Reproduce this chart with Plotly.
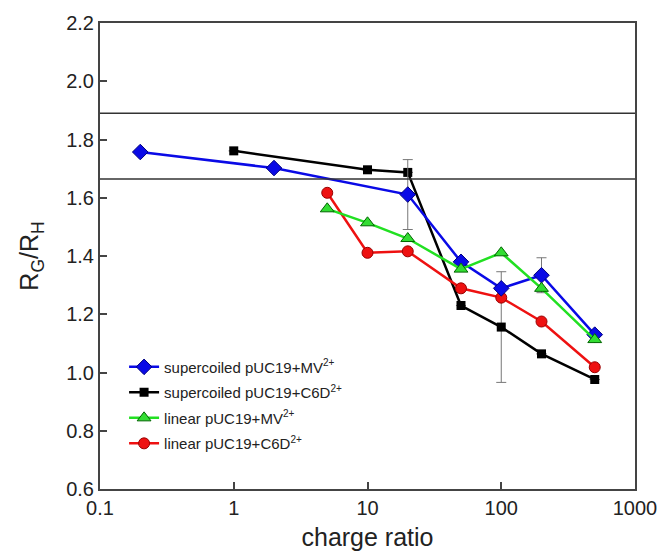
import plotly.graph_objects as go

FONT = "Liberation Sans"

# charge ratio values
x_sc_mv = [0.2, 2, 20, 50, 100, 200, 500]
y_sc_mv = [1.757, 1.702, 1.611, 1.380, 1.289, 1.334, 1.130]
err_sc_mv = [0, 0, 0.12, 0, 0, 0.06, 0]

x_sc_c6d = [1, 10, 20, 50, 100, 200, 500]
y_sc_c6d = [1.761, 1.696, 1.687, 1.230, 1.156, 1.064, 0.976]
err_sc_c6d = [0, 0, 0, 0, 0.19, 0, 0]

x_lin_mv = [5, 10, 20, 50, 100, 200, 500]
y_lin_mv = [1.562, 1.514, 1.460, 1.355, 1.411, 1.289, 1.113]

x_lin_c6d = [5, 10, 20, 50, 100, 200, 500]
y_lin_c6d = [1.617, 1.411, 1.416, 1.289, 1.257, 1.175, 1.018]

ref_lines = [1.89, 1.664]

x_tickvals = [0.1, 1, 10, 100, 1000]
x_ticktext = ["0.1", "1", "10", "100", "1000"]

SUP = '<sup><span style="font-size:10px">2+</span></sup>'
names = [
    "supercoiled pUC19+MV" + SUP,
    "supercoiled pUC19+C6D" + SUP,
    "linear pUC19+MV" + SUP,
    "linear pUC19+C6D" + SUP,
]

fig = go.Figure()

err_style = dict(type="data", symmetric=True, color="#777777", thickness=1, width=5)

fig.add_trace(go.Scatter(
    x=x_sc_c6d, y=y_sc_c6d, name=names[1], mode="lines+markers",
    line=dict(color="#000000", width=2.5),
    marker=dict(symbol="square", size=9, color="#000000"),
    error_y=dict(array=err_sc_c6d, **err_style),
    legendgroup="b", legendrank=2,
))
fig.add_trace(go.Scatter(
    x=x_lin_c6d, y=y_lin_c6d, name=names[3], mode="lines+markers",
    line=dict(color="#EE1111", width=2.5),
    marker=dict(symbol="circle", size=11, color="#EE1111", line=dict(color="#990000", width=1)),
    legendgroup="d", legendrank=4,
))
fig.add_trace(go.Scatter(
    x=x_sc_mv, y=y_sc_mv, name=names[0], mode="lines+markers",
    line=dict(color="#0A0AE6", width=2.5),
    marker=dict(symbol="diamond", size=12, color="#0A0AE6", line=dict(color="#000080", width=1)),
    error_y=dict(array=err_sc_mv, **err_style),
    legendgroup="a", legendrank=1,
))
fig.add_trace(go.Scatter(
    x=x_lin_mv, y=y_lin_mv, name=names[2], mode="lines+markers",
    line=dict(color="#22E022", width=2.5),
    marker=dict(symbol="triangle-up", size=12, color="#33DD33", line=dict(color="#006600", width=1)),
    legendgroup="c", legendrank=3,
))

for yv in ref_lines:
    fig.add_shape(type="line", xref="paper", x0=0, x1=1, yref="y", y0=yv, y1=yv,
                  line=dict(color="#333333", width=1.5))

axis_common = dict(
    showline=True, linecolor="#444444", linewidth=2, mirror=True,
    ticks="inside", ticklen=7, tickwidth=1.5, tickcolor="#444444",
    showgrid=False, zeroline=False,
    tickfont=dict(family=FONT, size=20, color="#222222"),
)

fig.update_xaxes(
    type="log", range=[-1, 3], tickvals=x_tickvals, ticktext=x_ticktext,
    title=dict(text="charge ratio", font=dict(family=FONT, size=25, color="#222222"), standoff=10),
    **axis_common,
)
fig.update_yaxes(
    range=[0.6, 2.2], dtick=0.2, tick0=0.6, tickformat=".1f",
    title=dict(text="R<sub>G</sub>/R<sub>H</sub>", font=dict(family=FONT, size=25, color="#222222"), standoff=20),
    **axis_common,
)

fig.update_layout(
    width=669, height=559,
    margin=dict(l=100, r=29, t=23, b=67),
    paper_bgcolor="white", plot_bgcolor="white",
    font=dict(family=FONT, color="#222222"),
    legend=dict(
        x=0.045, y=0.297, xanchor="left", yanchor="top",
        bgcolor="rgba(0,0,0,0)", borderwidth=0,
        font=dict(family=FONT, size=15, color="#222222"),
        traceorder="grouped", tracegroupgap=3,
    ),
)

fig.write_html("out.html")
